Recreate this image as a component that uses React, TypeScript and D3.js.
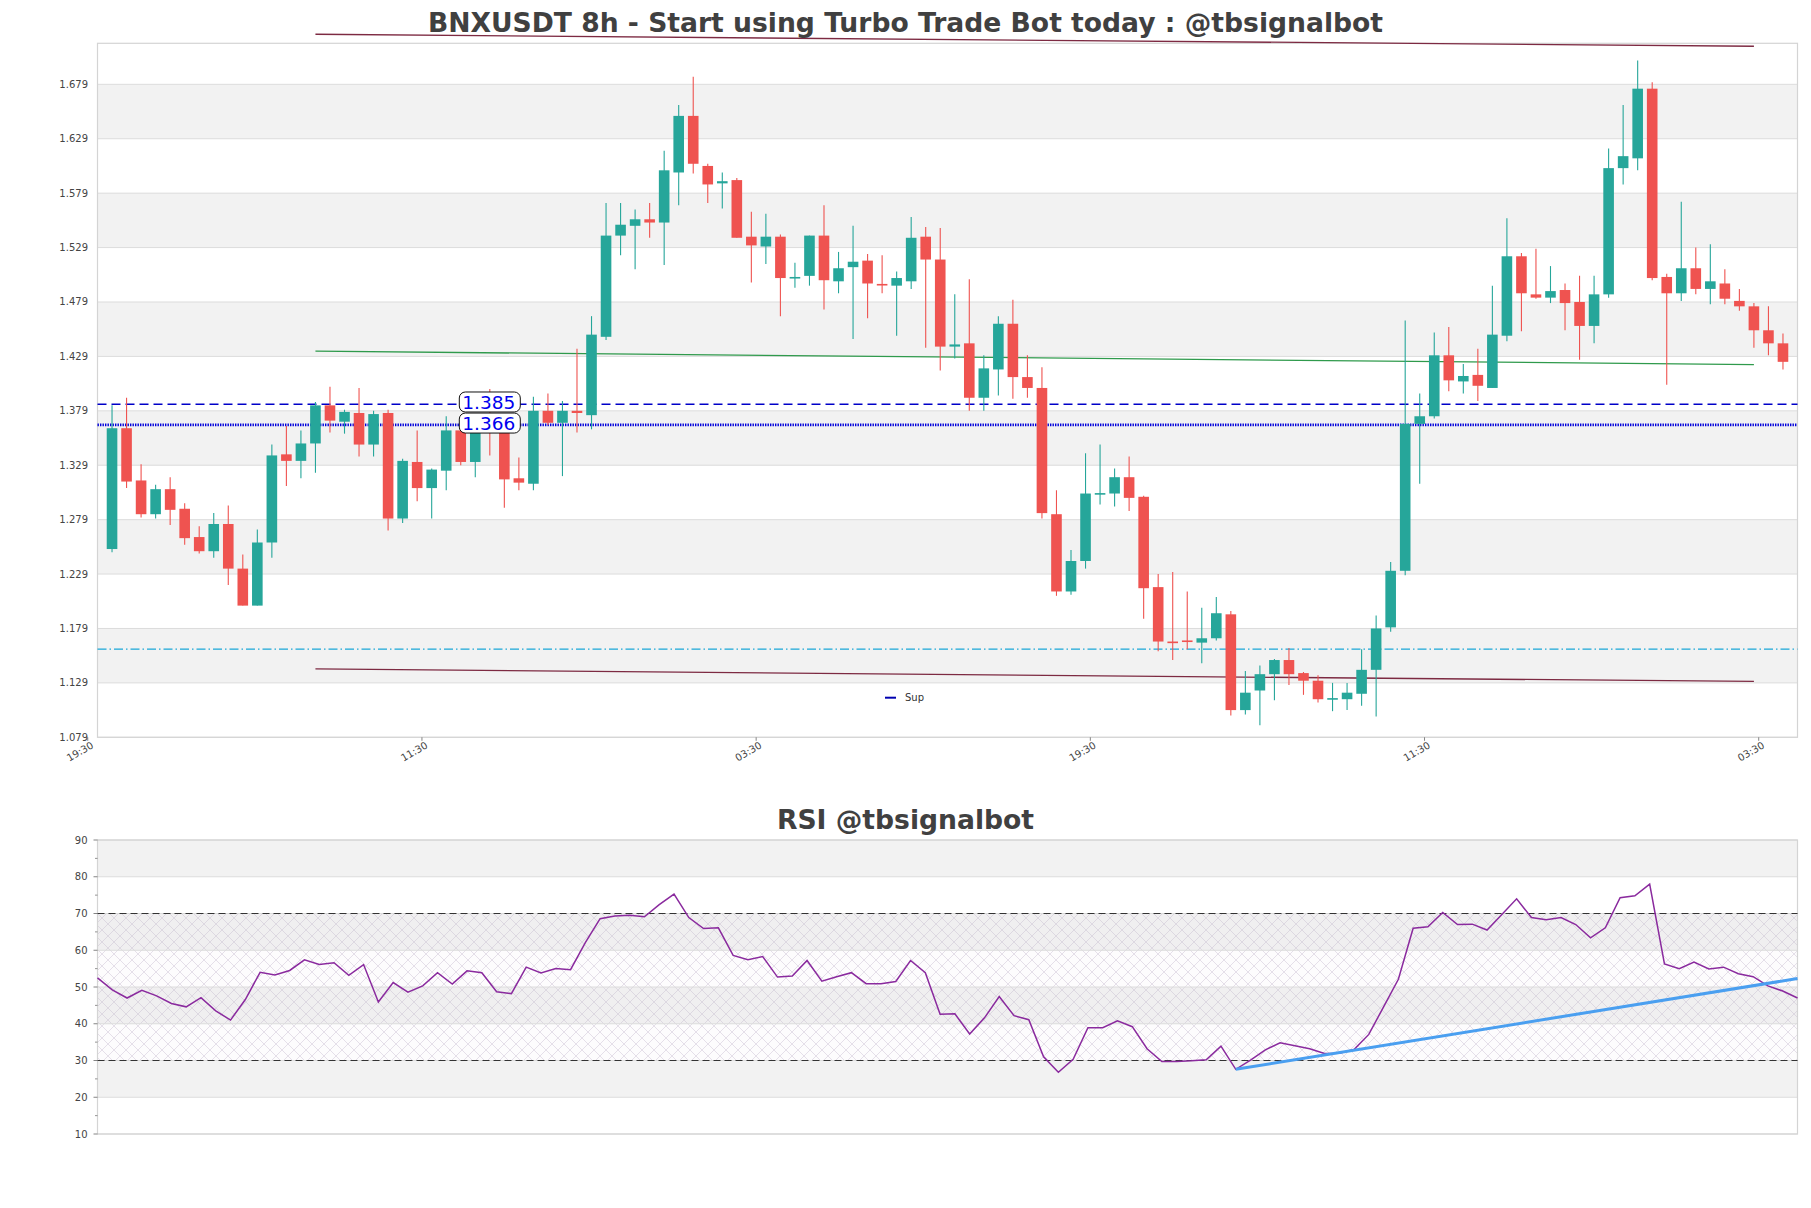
import { useEffect, useRef } from 'react';
import * as d3 from 'd3';

// OHLC per candle
const opens = [
  1.252, 1.363, 1.315, 1.284, 1.307, 1.289, 1.263, 1.250, 1.275, 1.234,
  1.200, 1.258, 1.339, 1.333, 1.349, 1.384, 1.369, 1.377, 1.348, 1.377,
  1.280, 1.332, 1.308, 1.324, 1.361, 1.332, 1.372, 1.364, 1.317, 1.312,
  1.379, 1.368, 1.379, 1.375, 1.447, 1.540, 1.549, 1.555, 1.552, 1.598,
  1.650, 1.604, 1.588, 1.591, 1.539, 1.530, 1.539, 1.501, 1.503, 1.540,
  1.498, 1.511, 1.517, 1.4956, 1.494, 1.498, 1.539, 1.518, 1.438, 1.441,
  1.391, 1.417, 1.459, 1.410, 1.400, 1.284, 1.213, 1.241, 1.302, 1.303,
  1.318, 1.300, 1.217, 1.167, 1.168, 1.166, 1.170, 1.192, 1.104, 1.122,
  1.137, 1.150, 1.138, 1.131, 1.114, 1.114, 1.119, 1.141, 1.180, 1.232,
  1.367, 1.374, 1.430, 1.406, 1.412, 1.400, 1.448, 1.521, 1.486, 1.483,
  1.490, 1.479, 1.457, 1.486, 1.602, 1.611, 1.675, 1.502, 1.487, 1.510,
  1.491, 1.496, 1.480, 1.475, 1.453, 1.441,
];
const highs = [
  1.384, 1.391, 1.330, 1.311, 1.318, 1.294, 1.273, 1.285, 1.292, 1.247,
  1.270, 1.348, 1.365, 1.361, 1.387, 1.401, 1.380, 1.400, 1.379, 1.380,
  1.335, 1.361, 1.326, 1.374, 1.363, 1.364, 1.399, 1.370, 1.336, 1.392,
  1.395, 1.388, 1.436, 1.466, 1.570, 1.570, 1.564, 1.570, 1.618, 1.660,
  1.686, 1.606, 1.598, 1.593, 1.562, 1.560, 1.541, 1.515, 1.540, 1.568,
  1.525, 1.549, 1.523, 1.522, 1.507, 1.557, 1.548, 1.547, 1.486, 1.500,
  1.430, 1.466, 1.481, 1.430, 1.419, 1.306, 1.251, 1.340, 1.348, 1.326,
  1.337, 1.301, 1.229, 1.231, 1.213, 1.198, 1.208, 1.195, 1.140, 1.145,
  1.151, 1.161, 1.139, 1.136, 1.129, 1.129, 1.160, 1.191, 1.240, 1.462,
  1.395, 1.451, 1.456, 1.422, 1.436, 1.494, 1.556, 1.524, 1.528, 1.512,
  1.496, 1.503, 1.503, 1.620, 1.660, 1.701, 1.681, 1.505, 1.571, 1.529,
  1.532, 1.509, 1.491, 1.478, 1.475, 1.450,
];
const lows = [
  1.249, 1.308, 1.281, 1.280, 1.274, 1.256, 1.248, 1.244, 1.219, 1.200,
  1.200, 1.244, 1.310, 1.317, 1.322, 1.359, 1.358, 1.337, 1.337, 1.269,
  1.276, 1.296, 1.280, 1.306, 1.329, 1.318, 1.338, 1.290, 1.306, 1.306,
  1.366, 1.319, 1.359, 1.362, 1.444, 1.522, 1.509, 1.538, 1.513, 1.568,
  1.597, 1.570, 1.565, 1.538, 1.497, 1.514, 1.466, 1.492, 1.494, 1.472,
  1.487, 1.445, 1.464, 1.487, 1.448, 1.491, 1.437, 1.416, 1.427, 1.379,
  1.379, 1.393, 1.390, 1.391, 1.280, 1.209, 1.210, 1.234, 1.293, 1.291,
  1.287, 1.188, 1.158, 1.150, 1.160, 1.147, 1.168, 1.099, 1.100, 1.090,
  1.113, 1.127, 1.118, 1.111, 1.103, 1.104, 1.108, 1.098, 1.176, 1.228,
  1.312, 1.372, 1.397, 1.395, 1.388, 1.400, 1.443, 1.452, 1.482, 1.478,
  1.453, 1.426, 1.441, 1.483, 1.587, 1.600, 1.499, 1.403, 1.480, 1.486,
  1.477, 1.477, 1.471, 1.437, 1.430, 1.417,
];
const closes = [
  1.363, 1.314, 1.284, 1.307, 1.288, 1.262, 1.250, 1.275, 1.234, 1.200,
  1.258, 1.338, 1.333, 1.349, 1.384, 1.370, 1.378, 1.348, 1.376, 1.280,
  1.333, 1.308, 1.325, 1.361, 1.332, 1.360, 1.366, 1.316, 1.313, 1.379,
  1.368, 1.379, 1.377, 1.449, 1.540, 1.550, 1.555, 1.552, 1.600, 1.650,
  1.606, 1.587, 1.590, 1.538, 1.531, 1.539, 1.501, 1.502, 1.540, 1.499,
  1.510, 1.516, 1.496, 1.4948, 1.501, 1.538, 1.518, 1.438, 1.440, 1.391,
  1.418, 1.459, 1.410, 1.400, 1.285, 1.213, 1.241, 1.303, 1.3034, 1.318,
  1.299, 1.216, 1.167, 1.1655, 1.167, 1.170, 1.193, 1.104, 1.120, 1.137,
  1.150, 1.137, 1.131, 1.114, 1.115, 1.120, 1.141, 1.179, 1.232, 1.367,
  1.374, 1.430, 1.407, 1.411, 1.402, 1.449, 1.521, 1.487, 1.483, 1.489,
  1.478, 1.457, 1.486, 1.602, 1.613, 1.675, 1.501, 1.487, 1.510, 1.491,
  1.498, 1.482, 1.475, 1.453, 1.441, 1.424,
];

const rsiValues = [
  52.5, 49.2, 47.0, 49.1, 47.6, 45.5, 44.6, 47.1, 43.5, 41.0,
  46.6, 54.0, 53.3, 54.5, 57.4, 56.1, 56.6, 53.2, 56.1, 45.9,
  51.2, 48.6, 50.3, 53.9, 50.8, 54.4, 53.9, 48.7, 48.2, 55.4,
  53.8, 55.0, 54.7, 62.1, 68.6, 69.3, 69.5, 69.1, 72.4, 75.3,
  68.9, 65.9, 66.1, 58.6, 57.4, 58.3, 52.7, 53.0, 57.2, 51.6,
  52.8, 53.9, 50.9, 50.9, 51.5, 57.2, 53.9, 42.6, 42.7, 37.2,
  41.6, 47.4, 42.2, 41.1, 31.0, 26.8, 30.3, 38.9, 38.9, 40.8,
  39.2, 33.2, 29.7, 29.7, 29.9, 30.2, 33.9, 27.6, 30.1, 32.9,
  34.8, 34.0, 33.2, 31.9, 32.0, 33.0, 37.1, 44.6, 52.1, 66.0,
  66.4, 70.3, 67.0, 67.1, 65.5, 69.7, 74.0, 68.9, 68.3, 68.9,
  67.0, 63.4, 66.1, 74.3, 74.8, 78.0, 56.3, 55.0, 56.8, 54.9,
  55.4, 53.6, 52.8, 50.3, 48.9, 47.0,
];

const priceTicks = [1.079, 1.129, 1.179, 1.229, 1.279, 1.329, 1.379, 1.429, 1.479, 1.529, 1.579, 1.629, 1.679];
const timeTicks = [-1.67, 21.33, 44.33, 67.33, 90.33, 113.33];
const timeLabels = ['19:30', '11:30', '03:30', '19:30', '11:30', '03:30'];
const rsiTicks = [10, 20, 30, 40, 50, 60, 70, 80, 90];

const resistance = 1.385;
const support = 1.366;
const lowSupport = 1.160;
// trend lines as [index, price] pairs
const upperChannel: [number, number][] = [[14, 1.725], [113, 1.714]];
const lowerChannel: [number, number][] = [[14, 1.1418], [113, 1.1303]];
const midChannel: [number, number][] = [[14, 1.4338], [113, 1.4215]];
const rsiTrend: [number, number][] = [[77, 27.6], [115, 52.3]];

const UP = '#26a69a';
const DOWN = '#ef5350';
const TXT = '#444444';
const BAND = '#f2f2f2';
const GRID = '#dcdcdc';
const FONT = 'DejaVu Sans, sans-serif';

export default function App() {
  const svgRef = useRef<SVGSVGElement>(null);

  useEffect(() => {
    if (!svgRef.current) return;
    const svg = d3.select(svgRef.current);
    svg.selectAll('*').remove();

    const left = 97.5, right = 1797.5;
    const main = { top: 43.3, bottom: 737.3 };
    const low = { top: 840, bottom: 1134 };

    const defs = svg.append('defs');
    const pat = defs.append('pattern')
      .attr('id', 'hatch')
      .attr('patternUnits', 'userSpaceOnUse')
      .attr('width', 12)
      .attr('height', 12);
    pat.append('path').attr('d', 'M0,0 L12,12 M12,0 L0,12')
      .attr('stroke', '#c4b8cc').attr('stroke-width', 0.6).attr('stroke-opacity', 0.7);

    svg.append('rect').attr('width', 1811).attr('height', 1208).attr('fill', '#fff');

    // ---------- price panel ----------
    const x = d3.scaleLinear().domain([-1, 116]).range([left, right]);
    const y = d3.scaleLinear().domain([1.079, 1.7167]).range([main.bottom, main.top]);

    const g = svg.append('g');
    priceTicks.slice(0, -1).forEach((t, k) => {
      if (k % 2 === 1) {
        g.append('rect')
          .attr('x', left).attr('width', right - left)
          .attr('y', y(priceTicks[k + 1])).attr('height', y(t) - y(priceTicks[k + 1]))
          .attr('fill', BAND);
      }
    });
    g.selectAll('.grid').data(priceTicks).join('line')
      .attr('x1', left).attr('x2', right)
      .attr('y1', d => y(d)).attr('y2', d => y(d))
      .attr('stroke', GRID).attr('stroke-width', 1);
    g.append('rect')
      .attr('x', left).attr('y', main.top).attr('width', right - left).attr('height', main.bottom - main.top)
      .attr('fill', 'none').attr('stroke', '#d4d4d4').attr('stroke-width', 1.2);

    g.selectAll('.ylab').data(priceTicks).join('text')
      .attr('x', left - 9.5).attr('y', d => y(d)).attr('dy', '0.35em')
      .attr('text-anchor', 'end').attr('font-size', 10).attr('font-family', FONT).attr('fill', TXT)
      .text(d => d.toFixed(3));

    // x ticks + rotated labels
    timeTicks.forEach((t, k) => {
      const tx = x(t);
      g.append('line').attr('x1', tx).attr('x2', tx).attr('y1', main.bottom).attr('y2', main.bottom + 3.5)
        .attr('stroke', '#666').attr('stroke-width', 0.8);
      g.append('text')
        .attr('transform', `translate(${tx + 6.5},${main.bottom + 10}) rotate(-30)`)
        .attr('text-anchor', 'end').attr('font-size', 10).attr('font-family', FONT).attr('fill', TXT)
        .text(timeLabels[k]);
    });

    // horizontal levels
    g.append('line').attr('x1', left).attr('x2', right).attr('y1', y(resistance)).attr('y2', y(resistance))
      .attr('stroke', '#0000c8').attr('stroke-width', 1.4).attr('stroke-dasharray', '9 5');
    g.append('line').attr('x1', left).attr('x2', right).attr('y1', y(support)).attr('y2', y(support))
      .attr('stroke', '#0000dc').attr('stroke-width', 2.8).attr('stroke-dasharray', '1.4 1.1');
    g.append('line').attr('x1', left).attr('x2', right).attr('y1', y(lowSupport)).attr('y2', y(lowSupport))
      .attr('stroke', '#1aa7d8').attr('stroke-width', 1.2).attr('stroke-dasharray', '9 3 1.5 3');

    // channel lines
    const chan = d3.line<[number, number]>().x(d => x(d[0])).y(d => y(d[1]));
    g.append('path').attr('d', chan(upperChannel)).attr('stroke', '#7d2a42').attr('stroke-width', 1.3).attr('fill', 'none');
    g.append('path').attr('d', chan(lowerChannel)).attr('stroke', '#7d2a42').attr('stroke-width', 1.3).attr('fill', 'none');
    g.append('path').attr('d', chan(midChannel)).attr('stroke', '#2f9a4c').attr('stroke-width', 1.3).attr('fill', 'none');

    // candles
    const idx = d3.range(opens.length);
    const bw = (x(1) - x(0)) * 0.73;
    const col = (i: number) => (closes[i] >= opens[i] ? UP : DOWN);
    g.selectAll('.wick').data(idx).join('line')
      .attr('x1', i => x(i)).attr('x2', i => x(i))
      .attr('y1', i => y(highs[i])).attr('y2', i => y(lows[i]))
      .attr('stroke', col).attr('stroke-width', 1.1);
    g.selectAll('.body').data(idx).join('rect')
      .attr('x', i => x(i) - bw / 2).attr('width', bw)
      .attr('y', i => y(Math.max(opens[i], closes[i])))
      .attr('height', i => Math.max(1.6, Math.abs(y(opens[i]) - y(closes[i]))))
      .attr('fill', col);

    // level value boxes
    [resistance, support].forEach((v, k) => {
      const cx = x(26);
      const cy = y(v) - 2.3 + (k === 0 ? 0 : 0.4);
      g.append('rect')
        .attr('x', cx - 30.5).attr('y', cy - 10).attr('width', 61).attr('height', 20)
        .attr('rx', 6).attr('fill', '#fff').attr('stroke', '#111').attr('stroke-width', 1);
      g.append('text')
        .attr('x', cx - 1).attr('y', cy).attr('dy', '0.36em')
        .attr('text-anchor', 'middle').attr('font-size', 18.5).attr('font-family', FONT).attr('fill', '#0000ee')
        .text(v.toFixed(3));
    });

    // legend
    g.append('line').attr('x1', 885).attr('x2', 896).attr('y1', 697.7).attr('y2', 697.7)
      .attr('stroke', '#0000b0').attr('stroke-width', 2);
    g.append('text').attr('x', 905).attr('y', 697.7).attr('dy', '0.35em')
      .attr('font-size', 10).attr('font-family', FONT).attr('fill', '#333').text('Sup');

    // title
    svg.append('text').attr('x', 905.5).attr('y', 32.3).attr('text-anchor', 'middle')
      .attr('font-size', 26.6).attr('font-weight', 'bold').attr('font-family', FONT).attr('fill', '#404040')
      .text('BNXUSDT 8h - Start using Turbo Trade Bot today : @tbsignalbot');

    // ---------- RSI panel ----------
    const xr = d3.scaleLinear().domain([0, rsiValues.length - 1]).range([left, right]);
    const yr = d3.scaleLinear().domain([10, 90]).range([low.bottom, low.top]);
    const r = svg.append('g');

    rsiTicks.slice(0, -1).forEach((t, k) => {
      if (k % 2 === 1) {
        r.append('rect').attr('x', left).attr('width', right - left)
          .attr('y', yr(rsiTicks[k + 1])).attr('height', yr(t) - yr(rsiTicks[k + 1]))
          .attr('fill', BAND);
      }
    });
    r.append('rect').attr('x', left).attr('width', right - left)
      .attr('y', yr(70)).attr('height', yr(30) - yr(70))
      .attr('fill', '#c8b0d8').attr('fill-opacity', 0.04);
    r.append('rect').attr('x', left).attr('width', right - left)
      .attr('y', yr(70)).attr('height', yr(30) - yr(70))
      .attr('fill', 'url(#hatch)');
    r.selectAll('.rgrid').data(rsiTicks).join('line')
      .attr('x1', left).attr('x2', right)
      .attr('y1', d => yr(d)).attr('y2', d => yr(d))
      .attr('stroke', GRID).attr('stroke-width', 1);
    r.append('rect')
      .attr('x', left).attr('y', low.top).attr('width', right - left).attr('height', low.bottom - low.top)
      .attr('fill', 'none').attr('stroke', '#d4d4d4').attr('stroke-width', 1.2);

    r.selectAll('.rlab').data(rsiTicks).join('text')
      .attr('x', left - 10).attr('y', d => yr(d)).attr('dy', '0.35em')
      .attr('text-anchor', 'end').attr('font-size', 10).attr('font-family', FONT).attr('fill', TXT)
      .text(d => d);
    r.selectAll('.rtick').data(rsiTicks).join('line')
      .attr('x1', left - 4).attr('x2', left).attr('y1', d => yr(d)).attr('y2', d => yr(d))
      .attr('stroke', '#666').attr('stroke-width', 0.8);
    r.selectAll('.rminor').data(rsiTicks.slice(0, -1).map(d => d + 5)).join('line')
      .attr('x1', left - 2.5).attr('x2', left).attr('y1', d => yr(d)).attr('y2', d => yr(d))
      .attr('stroke', '#666').attr('stroke-width', 0.7);

    [70, 30].forEach(v => {
      r.append('line').attr('x1', left).attr('x2', right).attr('y1', yr(v)).attr('y2', yr(v))
        .attr('stroke', '#333').attr('stroke-width', 1.1).attr('stroke-dasharray', '7 4');
    });

    const rl = d3.line<number>().x((_, i) => xr(i)).y(d => yr(d));
    r.append('path').attr('d', rl(rsiValues)).attr('fill', 'none')
      .attr('stroke', '#8a2a9e').attr('stroke-width', 1.5);

    const tl = d3.line<[number, number]>().x(d => xr(d[0])).y(d => yr(d[1]));
    r.append('path').attr('d', tl(rsiTrend)).attr('fill', 'none')
      .attr('stroke', '#4a9ff0').attr('stroke-width', 3);

    svg.append('text').attr('x', 905.5).attr('y', 829).attr('text-anchor', 'middle')
      .attr('font-size', 26.6).attr('font-weight', 'bold').attr('font-family', FONT).attr('fill', '#404040')
      .text('RSI @tbsignalbot');
  }, []);

  return (
    <svg ref={svgRef} width={1811} height={1208}
      style={{ position: 'absolute', left: 0, top: 0, display: 'block' }} />
  );
}
